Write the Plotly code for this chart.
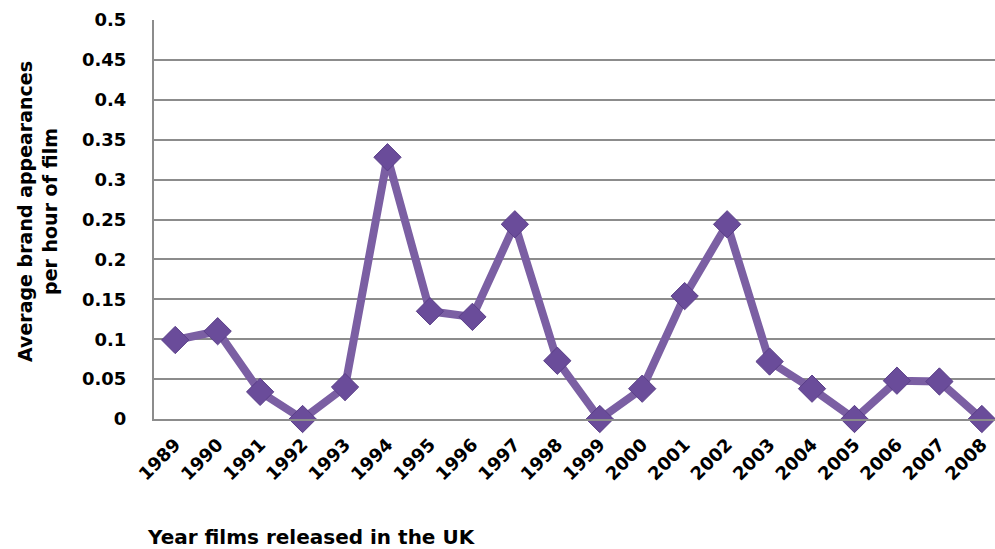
import plotly.graph_objects as go

years = ["1989", "1990", "1991", "1992", "1993", "1994", "1995", "1996", "1997", "1998",
         "1999", "2000", "2001", "2002", "2003", "2004", "2005", "2006", "2007", "2008"]
appearances = [0.099, 0.110, 0.034, 0.0, 0.040, 0.328, 0.135, 0.128, 0.244, 0.073,
               0.0, 0.038, 0.154, 0.244, 0.072, 0.038, 0.0, 0.048, 0.047, 0.0]
y_ticks = [0, 0.05, 0.1, 0.15, 0.2, 0.25, 0.3, 0.35, 0.4, 0.45, 0.5]
y_ticktext = ["0", "0.05", "0.1", "0.15", "0.2", "0.25", "0.3", "0.35", "0.4", "0.45", "0.5"]

FONT = "DejaVu Sans"

PL, PT, PW, PH = 154, 20, 841, 399

fig = go.Figure()
fig.add_trace(go.Scatter(
    x=years, y=appearances, mode="lines+markers",
    line=dict(color="#7B5FA3", width=8),
    marker=dict(symbol="diamond", size=21, color="#6A4C9A",
                line=dict(color="#5A3F88", width=1)),
    cliponaxis=False, showlegend=False,
))

fig.update_layout(
    width=995, height=549,
    margin=dict(l=PL, r=0, t=PT, b=549 - PT - PH, autoexpand=False),
    paper_bgcolor="white", plot_bgcolor="white",
    font=dict(family=FONT, color="black"),
    xaxis=dict(
        type="category", range=[-0.5, 19.31],
        tickangle=-45, tickfont=dict(family=FONT, size=18, weight="bold"),
        showgrid=False, showline=True, linecolor="#8c8c8c", linewidth=2,
        ticks="", ticklabelstandoff=6, automargin=False,
    ),
    yaxis=dict(
        range=[0, 0.5], tickvals=y_ticks, ticktext=y_ticktext,
        tickfont=dict(family=FONT, size=18, weight="bold"),
        showgrid=True, gridcolor="#8c8c8c", gridwidth=1.5,
        showline=True, linecolor="#8c8c8c", linewidth=2,
        ticks="", ticklabelstandoff=22, zeroline=False, automargin=False,
    ),
    annotations=[
        dict(text="Average brand appearances<br>per hour of film", xref="paper", yref="paper",
             x=(37 - PL) / PW, y=(PT + PH - 211) / PH, xanchor="center", yanchor="middle",
             textangle=-90, showarrow=False,
             font=dict(family=FONT, size=19, weight="bold")),
        dict(text="Year films released in the UK", xref="paper", yref="paper",
             x=(145 - PL) / PW, y=(PT + PH - 537) / PH, xanchor="left", yanchor="middle",
             showarrow=False, font=dict(family=FONT, size=20, weight="bold")),
    ],
)

fig.write_html("out.html", config={"displayModeBar": False},
               post_script="document.body.style.margin='0';document.body.style.overflow='hidden';")
